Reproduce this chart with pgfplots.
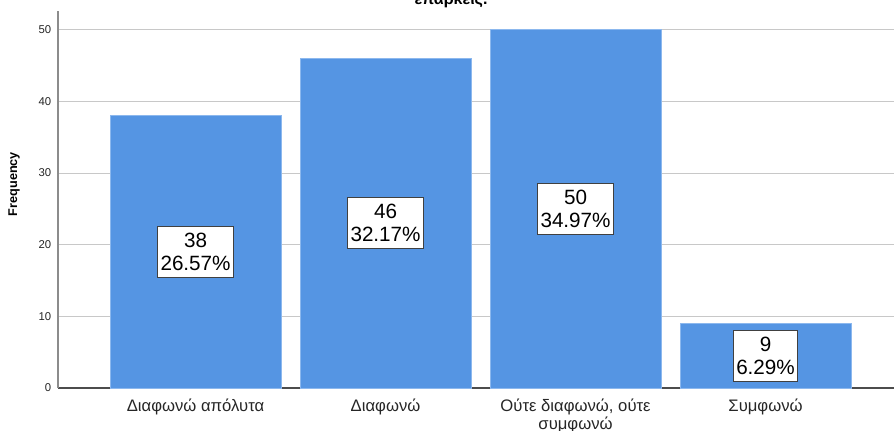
\documentclass[border=0pt]{standalone}
\usepackage{pgfplots}
\usepackage{pgfplotstable}
\pgfplotsset{compat=1.18}
\usepackage{fontspec}
\setmainfont{Liberation Sans}

\definecolor{barblue}{RGB}{85,149,227}
\definecolor{baredge}{RGB}{140,184,238}
\definecolor{gridgray}{RGB}{200,200,200}
\definecolor{axisgray}{RGB}{140,140,140}

% x position, frequency, percent of responses
\pgfplotstableread{
x f pct
0 38 26.57
1 46 32.17
2 50 34.97
3 9 6.29
}\freqtable

\begin{document}
\begin{tikzpicture}
\begin{axis}[
  at={(43.5pt,31.5pt)}, anchor=south west,
  scale only axis,
  width=627pt, height=282.75pt,
  xmin=-0.724, xmax=3.676,
  ymin=0, ymax=52.6,
  axis x line=bottom, axis y line=left,
  axis line style={-, draw=axisgray, line width=0.8pt},
  x axis line style={draw=black!70},
  xtick={0,1,2,3},
  xticklabels={Διαφωνώ απόλυτα, Διαφωνώ, {Ούτε διαφωνώ, ούτε\\συμφωνώ}, Συμφωνώ},
  xticklabel style={font=\fontsize{12.5}{13}\selectfont, align=center, text=black!85, yshift=-5pt},
  ytick={0,10,...,50},
  yticklabel style={font=\fontsize{8.5}{10}\selectfont, xshift=-1.5pt, text=black!85},
  /pgf/number format/assume math mode=true,
  major tick length=0pt,
  ymajorgrids,
  grid style={draw=gridgray, line width=0.6pt},
  ylabel={\bfseries Frequency},
  ylabel style={at={(axis description cs:-0.0526,0.541)}, anchor=center, font=\fontsize{9.5}{11}\selectfont},
  clip=false,
]
\addplot[ybar, bar width=128.25pt, bar shift=0pt, fill=barblue, draw=baredge, line width=0.4pt]
  table[x=x, y=f] {\freqtable};
\addplot[draw=none, mark=none,
  visualization depends on={\thisrow{f}\as\fval},
  visualization depends on={\thisrow{pct}\as\pval},
  nodes near coords={\pgfmathprintnumber[fixed,precision=0]{\fval}\\\pgfmathprintnumber[fixed,fixed zerofill,precision=2]{\pval}\%},
  every node near coord/.append style={anchor=center, align=center,
    fill=white, draw=black!75, line width=0.6pt,
    font=\fontsize{15.5}{17}\selectfont, inner xsep=2pt, inner ysep=5pt},
] table[x=x, y expr=\thisrow{f}/2] {\freqtable};
\end{axis}
\node[anchor=base, font=\bfseries\fontsize{12}{14}\selectfont] at (338.25pt,319.5pt) {επαρκείς.};
\pgfresetboundingbox
\path[use as bounding box] (0,0) rectangle (670.5pt,322.5pt);
\end{tikzpicture}
\end{document}
